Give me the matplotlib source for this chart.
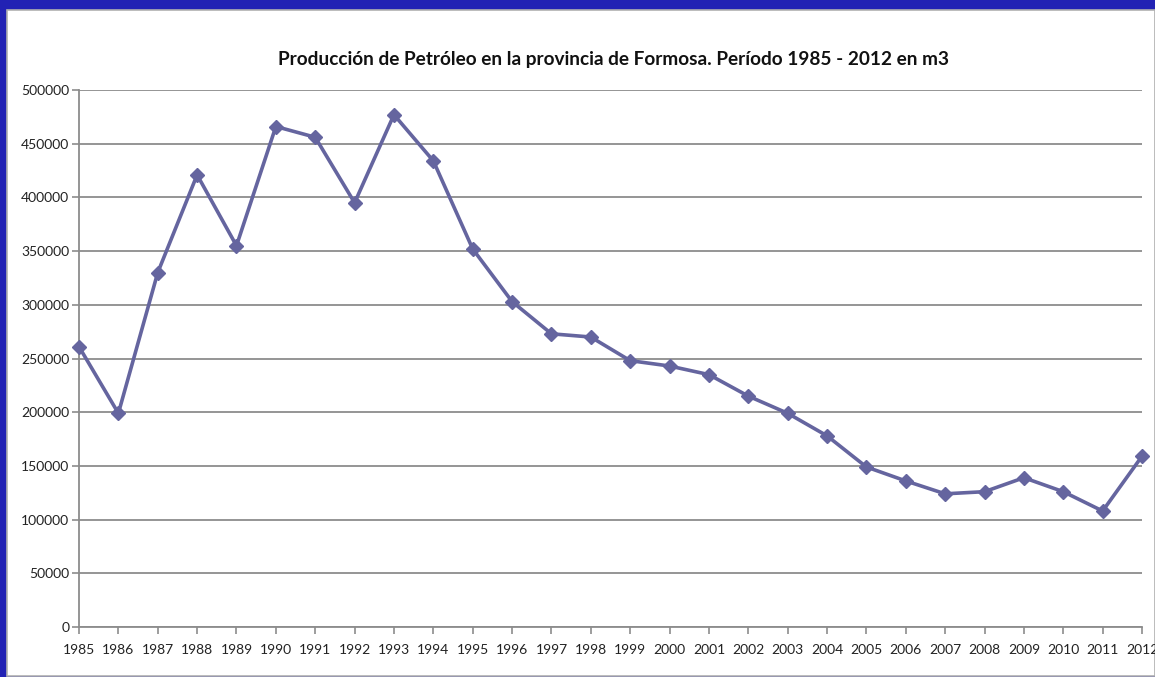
import matplotlib.pyplot as plt
from matplotlib.patches import Rectangle

# production of oil, Formosa province (m3)
years = list(range(1985, 2013))
production = [261000, 199000, 330000, 421000, 355000, 466000, 456000, 395000,
              477000, 434000, 352000, 303000, 273000, 270000, 248000, 243000,
              235000, 215000, 199000, 178000, 149000, 136000, 124000, 126000,
              139000, 126000, 108000, 159000]
yticks = list(range(0, 500001, 50000))

title = 'Producción de Petróleo en la provincia de Formosa. Período 1985 - 2012 en m3'

plt.rcParams['font.family'] = ['Lato', 'DejaVu Sans']

fig = plt.figure(figsize=(11.55, 6.77), dpi=100)
fig.patch.set_facecolor('#2222b4')

# white panel that holds the chart
panel = Rectangle((7 / 1155, 1 / 677), 1 - 7 / 1155, 1 - 11 / 677,
                  transform=fig.transFigure, facecolor='white',
                  edgecolor='#b0b0b0', linewidth=1.2, zorder=-5)
fig.patches.append(panel)

ax = fig.add_axes([79 / 1155, 1 - 627 / 677, (1142 - 79) / 1155, (627 - 90) / 677])
ax.set_facecolor('none')

ax.plot(years, production, color='#65659f', linewidth=2.6, marker='D',
        markersize=7, markerfacecolor='#65659f', markeredgecolor='#65659f',
        zorder=3, clip_on=False)

ax.set_xlim(1985, 2012)
ax.set_ylim(0, 500000)
ax.set_xticks(years)
ax.set_xticklabels([str(y) for y in years])
ax.set_yticks(yticks)
ax.set_yticklabels([str(v) for v in yticks])

ax.grid(axis='y', color='#8c8c8c', linewidth=1.3)
ax.set_axisbelow(True)
for s in ['top', 'right']:
    ax.spines[s].set_visible(False)
for s in ['left', 'bottom']:
    ax.spines[s].set_color('#8c8c8c')
    ax.spines[s].set_linewidth(1.3)
ax.tick_params(axis='both', colors='#8c8c8c', length=5, width=1.2,
               labelcolor='#222222', labelsize=10)
ax.tick_params(axis='x', pad=7)
ax.tick_params(axis='y', pad=2)

fig.text(614 / 1155, 1 - 60 / 677, title, ha='center', va='center',
         fontsize=13.7, fontweight='bold', color='#111111')

fig.savefig('out.png', dpi=100, facecolor=fig.get_facecolor())
